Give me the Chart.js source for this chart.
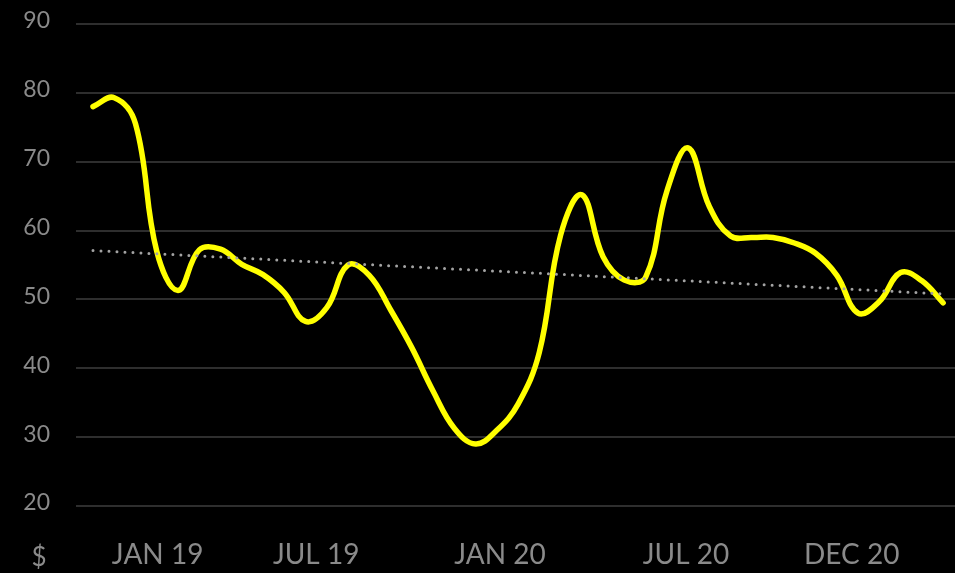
<!DOCTYPE html>
<html>
<head>
<meta charset="utf-8">
<script src="https://cdn.jsdelivr.net/npm/chart.js@4/dist/chart.umd.min.js"></script>
<style>
  html, body { margin: 0; padding: 0; background: #000; overflow: hidden; }
  #wrap { width: 955px; height: 573px; position: relative; }
</style>
</head>
<body>
<div id="wrap"><canvas id="priceChart"></canvas></div>
<script>
// price per period (one point every step)
const prices = [
  78.0, 79.3, 75.5, 57.0, 51.3, 57.2, 57.3, 55.1, 53.6, 51.0,
  46.8, 48.8, 55.0, 53.5, 48.5, 43.0, 36.7, 31.3, 29.0, 31.0,
  34.8, 42.3, 59.3, 65.2, 56.2, 52.8, 53.2, 65.7, 72.0, 63.5,
  59.2, 59.0, 59.0, 58.2, 56.7, 53.5, 48.0, 49.7, 53.9, 52.7,
  49.5
];

// dotted trend line, first and last value
const trendValues = [57.1, 50.8];

const tickLabels = ["JAN 19", "JUL 19", "JAN 20", "JUL 20", "DEC 20"];
const tickIndex = [3.04, 10.5, 19.15, 27.9, 35.7];

const yTicks = [20, 30, 40, 50, 60, 70, 80, 90];

const labelColor = "#8a8a8a";
const fontFamily = "Lato, 'Open Sans', sans-serif";

const priceData = prices.map((y, i) => ({ x: i, y }));
const trendData = [
  { x: 0, y: trendValues[0] },
  { x: prices.length - 1, y: trendValues[1] }
];

// "$" unit label in the bottom left corner
const unitLabel = {
  id: "unitLabel",
  afterDraw(chart) {
    const ctx = chart.ctx;
    ctx.save();
    ctx.fillStyle = labelColor;
    ctx.font = "26px " + fontFamily;
    ctx.textAlign = "center";
    ctx.textBaseline = "middle";
    ctx.fillText("$", 39, 558);
    ctx.restore();
  }
};

const ctx = document.getElementById("priceChart").getContext("2d");

new Chart(ctx, {
  type: "line",
  data: {
    datasets: [
      {
        label: "trend",
        data: trendData,
        borderColor: "#a3a3a3",
        borderWidth: 3,
        borderDash: [0, 8],
        borderCapStyle: "round",
        pointRadius: 0,
        fill: false
      },
      {
        label: "price",
        data: priceData,
        borderColor: "#ffff00",
        borderWidth: 5.5,
        borderCapStyle: "round",
        borderJoinStyle: "round",
        tension: 0.4,
        pointRadius: 0,
        fill: false
      }
    ]
  },
  options: {
    animation: false,
    responsive: true,
    maintainAspectRatio: false,
    layout: { padding: { top: 24, left: 0, right: 0, bottom: 0 } },
    plugins: {
      legend: { display: false },
      tooltip: { enabled: false }
    },
    scales: {
      x: {
        type: "linear",
        min: -0.8,
        max: 40.56,
        afterBuildTicks: axis => {
          axis.ticks = tickIndex.map(v => ({ value: v }));
        },
        afterFit: axis => { axis.height = 67; },
        grid: { display: false, drawTicks: false },
        border: { display: false },
        ticks: {
          autoSkip: false,
          maxRotation: 0,
          padding: 32,
          color: labelColor,
          font: { family: fontFamily, size: 28 },
          callback: (value, index) => tickLabels[index]
        }
      },
      y: {
        min: 20,
        max: 90,
        afterBuildTicks: axis => {
          axis.ticks = yTicks.map(v => ({ value: v }));
        },
        afterFit: axis => { axis.width = 76; },
        // invisible tick marks make the gap between labels and grid
        grid: {
          color: "#2e2e2e",
          lineWidth: 2,
          drawTicks: true,
          tickLength: 26,
          tickColor: "rgba(0,0,0,0)"
        },
        border: { display: false },
        ticks: {
          padding: 0,
          labelOffset: -3,
          color: labelColor,
          font: { family: fontFamily, size: 23 }
        }
      }
    }
  },
  plugins: [unitLabel]
});
</script>
</body>
</html>
